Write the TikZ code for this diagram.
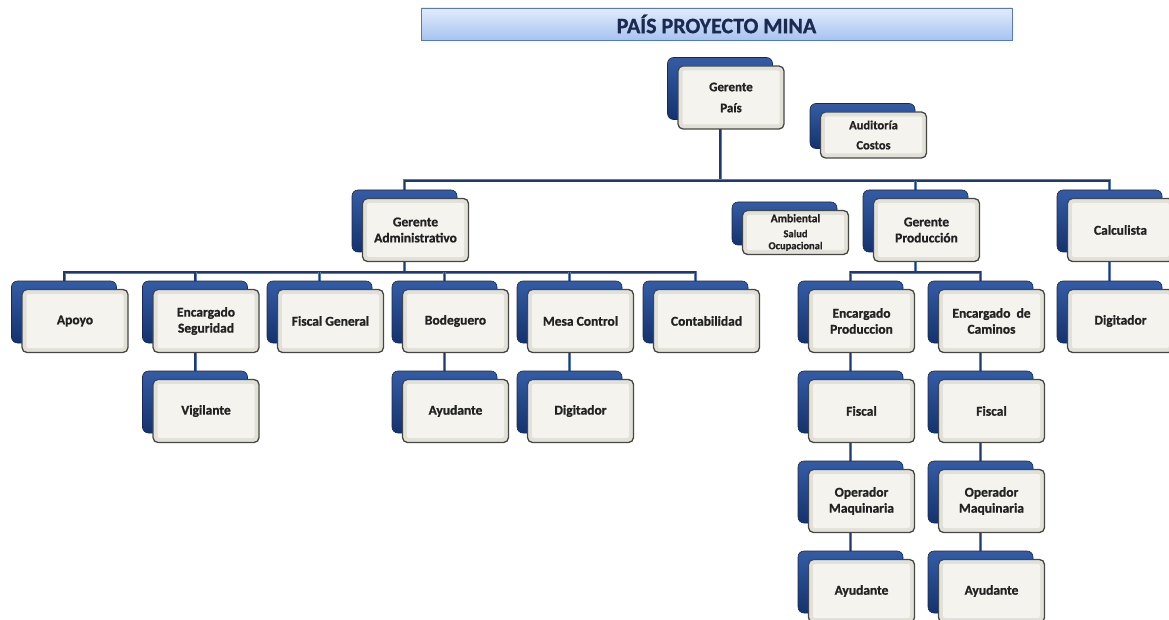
\documentclass[tikz,border=0pt]{standalone}
\usepackage{fontspec}
\setmainfont{Carlito}[BoldFeatures={FakeBold=1}]
\usetikzlibrary{backgrounds}

\definecolor{navyTop}{RGB}{52,92,166}
\definecolor{navyBot}{RGB}{20,50,110}
\definecolor{navyEdge}{RGB}{18,42,90}
\definecolor{frameGray}{RGB}{70,70,70}
\definecolor{creamOut}{RGB}{226,225,216}
\definecolor{creamIn}{RGB}{244,243,237}
\definecolor{linkDark}{RGB}{30,58,112}
\definecolor{linkLight}{RGB}{92,124,176}
\definecolor{titleTop}{RGB}{226,236,252}
\definecolor{titleBot}{RGB}{166,196,240}
\definecolor{titleEdge}{RGB}{88,122,176}
\definecolor{titleInk}{RGB}{28,42,82}
\definecolor{boxInk}{RGB}{34,34,34}

\tikzset{
  backbox/.style={rounded corners=6pt, minimum width=105pt, minimum height=62pt,
    inner sep=0pt, top color=navyTop, bottom color=navyBot, draw=navyEdge, line width=0.6pt},
  frontbox/.style={rounded corners=5pt, minimum width=106pt, minimum height=63pt,
    inner sep=2pt, draw=frameGray, line width=1.3pt, fill=creamOut, text=boxInk,
    font=\fontsize{13.5}{16}\selectfont\bfseries, align=center,
    path picture={\fill[creamIn, rounded corners=2pt]
      ([shift={(4.5pt,4.5pt)}]path picture bounding box.south west) rectangle
      ([shift={(-4.5pt,-4.5pt)}]path picture bounding box.north east);}},
  smallback/.style={minimum height=45pt},
  smallfront/.style={minimum height=46pt},
  conn/.style={line width=3pt, draw=linkLight,
    postaction={draw=linkDark, line width=1.8pt}},
  titlebox/.style={minimum width=591pt, minimum height=32pt, inner sep=0pt,
    top color=titleTop, bottom color=titleBot, draw=titleEdge, line width=0.9pt,
    text=titleInk, font=\fontsize{22}{24}\selectfont\bfseries}
}

% #1 extra back style, #2 extra front style, #3 name, #4 back centre, #5 text
\newcommand{\orgunit}[5]{%
  \node[backbox,#1] (#3-b) at (#4) {};
  \path (#4) ++(11,9) node[frontbox,#2] (#3) {#5};
}

\begin{document}
\begin{tikzpicture}[x=1pt, y=-1pt]
\useasboundingbox (0,0) rectangle (1169,620);

\node[titlebox] (title) at (716.5,24) {PAÍS PROYECTO MINA};

% top level
\orgunit{}{font=\fontsize{13}{21}\selectfont\bfseries}{gp}{720,88.5}{Gerente\\País}
\orgunit{smallback}{smallfront,font=\fontsize{12.5}{20}\selectfont\bfseries}{aud}{862.5,126}{Auditoría\\Costos}

% second level
\orgunit{}{}{gadm}{404.5,221}{Gerente\\Administrativo}
\orgunit{minimum height=43pt}{minimum height=44pt,font=\bfseries}{amb}{784.5,223.5}%
  {\fontsize{11.5}{13}\selectfont Ambiental\\[3pt]\fontsize{10.5}{12.5}\selectfont Salud\\\fontsize{10.5}{12.5}\selectfont Ocupacional}
\orgunit{}{}{gprod}{915.5,221}{Gerente\\Producción}
\orgunit{}{}{calc}{1109.5,221}{Calculista}

% administrative branch
\orgunit{}{}{apoyo}{64,312}{Apoyo}
\orgunit{}{}{eseg}{195,312}{Encargado\\Seguridad}
\orgunit{}{}{fgen}{319.5,312}{Fiscal General}
\orgunit{}{}{bod}{444.5,312}{Bodeguero}
\orgunit{}{}{mesa}{569.5,312}{Mesa Control}
\orgunit{}{}{cont}{695.5,312}{Contabilidad}
\orgunit{}{}{vig}{195,402}{Vigilante}
\orgunit{}{}{ayb}{444.5,402}{Ayudante}
\orgunit{}{}{digm}{569.5,402}{Digitador}

% production branch
\orgunit{}{}{eprod}{850.5,312}{Encargado\\Produccion}
\orgunit{}{}{ecam}{980.5,312}{Encargado~ de\\Caminos}
\orgunit{}{}{digc}{1109.5,312}{Digitador}
\orgunit{}{}{fp}{850.5,402}{Fiscal}
\orgunit{}{}{fc}{980.5,402}{Fiscal}
\orgunit{}{}{opp}{850.5,492}{Operador\\Maquinaria}
\orgunit{}{}{opc}{980.5,492}{Operador\\Maquinaria}
\orgunit{}{}{ayp}{850.5,582}{Ayudante}
\orgunit{}{}{ayc}{980.5,582}{Ayudante}

% connectors behind the boxes
\begin{scope}[on background layer]
  \coordinate (bus0) at (720,181);
  \coordinate (busA) at (404.5,272);
  \coordinate (busP) at (915.5,272);
  \draw[conn] (gp-b.center) -- (bus0);
  \draw[conn] (gadm-b.center) |- (bus0) -| (calc-b.center);
  \draw[conn] (gprod-b.center |- bus0) -- (gprod-b.center);
  \draw[conn] (gadm-b.center) -- (busA);
  \draw[conn] (apoyo-b.center) |- (busA) -| (cont-b.center);
  \foreach \n in {eseg,fgen,bod,mesa} \draw[conn] (\n-b.center |- busA) -- (\n-b.center);
  \draw[conn] (gprod-b.center) -- (busP);
  \draw[conn] (eprod-b.center) |- (busP) -| (ecam-b.center);
  \draw[conn] (calc-b.center) -- (digc-b.center);
  \draw[conn] (eseg-b.center) -- (vig-b.center);
  \draw[conn] (bod-b.center) -- (ayb-b.center);
  \draw[conn] (mesa-b.center) -- (digm-b.center);
  \draw[conn] (eprod-b.center) -- (fp-b.center) -- (opp-b.center) -- (ayp-b.center);
  \draw[conn] (ecam-b.center) -- (fc-b.center) -- (opc-b.center) -- (ayc-b.center);
\end{scope}
\end{tikzpicture}
\end{document}
